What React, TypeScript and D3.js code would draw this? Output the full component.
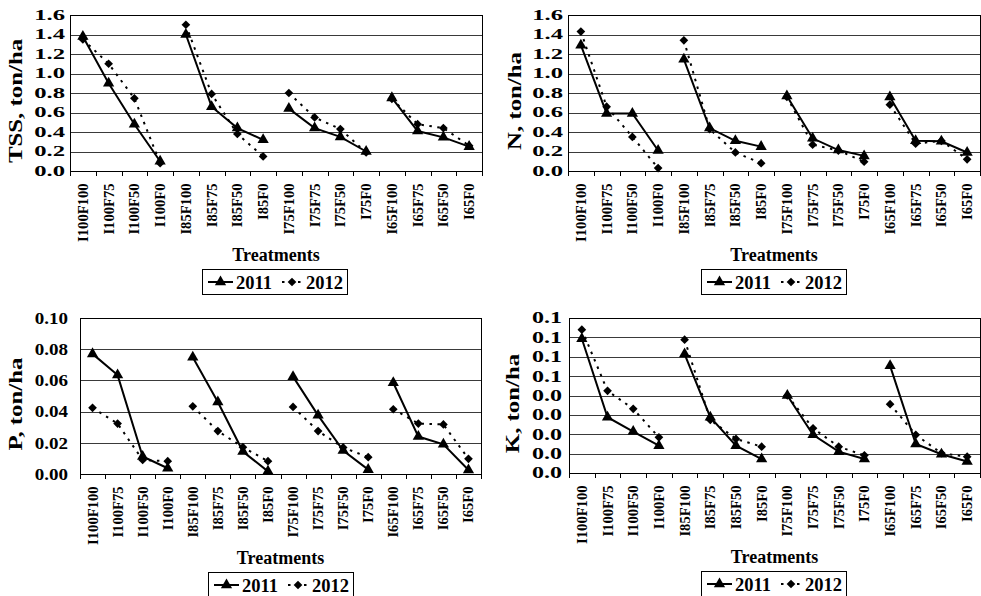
import React, { useEffect, useRef } from "react";
import * as d3 from "d3";

// treatment names: irrigation level x fertiliser level
const irrigation = ["I100", "I85", "I75", "I65"];
const fertiliser = ["F100", "F75", "F50", "F0"];
const treatments = irrigation.flatMap(i => fertiliser.map(f => i + f));

// loads per treatment, ton/ha
const tss2011 = [1.38, 0.9, 0.48, 0.1, 1.4, 0.66, 0.44, 0.32, 0.64, 0.44, 0.35, 0.2, 0.75, 0.41, 0.345, 0.25];
const tss2012 = [1.35, 1.1, 0.745, 0.08, 1.5, 0.79, 0.38, 0.15, 0.8, 0.55, 0.43, 0.19, 0.74, 0.48, 0.44, 0.26];
const n2011 = [1.29, 0.59, 0.59, 0.21, 1.145, 0.44, 0.31, 0.25, 0.77, 0.335, 0.215, 0.155, 0.76, 0.31, 0.305, 0.19];
const n2012 = [1.43, 0.66, 0.35, 0.03, 1.34, 0.43, 0.19, 0.08, 0.76, 0.27, 0.21, 0.095, 0.68, 0.28, 0.31, 0.12];
const p2011 = [0.077, 0.0634, 0.0112, 0.0037, 0.0748, 0.0462, 0.0144, 0.0017, 0.0624, 0.0376, 0.015, 0.0028, 0.0585, 0.024, 0.019, 0.0026];
const p2012 = [0.0424, 0.0323, 0.009, 0.0082, 0.0434, 0.0275, 0.0172, 0.0082, 0.043, 0.0275, 0.017, 0.0108, 0.0415, 0.0323, 0.0318, 0.0097];
const k2011 = [0.0693, 0.0288, 0.0214, 0.0141, 0.0614, 0.0288, 0.0141, 0.0072, 0.04, 0.0197, 0.011, 0.0072, 0.0553, 0.015, 0.0097, 0.0059];
const k2012 = [0.074, 0.0424, 0.0331, 0.0184, 0.0688, 0.0274, 0.0176, 0.0136, 0.04, 0.0231, 0.0136, 0.0091, 0.0355, 0.0197, 0.0102, 0.0084];

// tick labels as printed on each axis
const tssTicks = ["0.0", "0.2", "0.4", "0.6", "0.8", "1.0", "1.2", "1.4", "1.6"];
const pTicks = ["0.00", "0.02", "0.04", "0.06", "0.08", "0.10"];
const kTicks = ["0.0", "0.0", "0.0", "0.0", "0.0", "0.1", "0.1", "0.1", "0.1"];

const years = ["2011", "2012"];

const FONT = "'Liberation Serif', 'Times New Roman', serif";

const panels = [
  { title: "TSS, ton/ha", a: tss2011, b: tss2012, max: 1.6, ticks: tssTicks,
    x0: 70, x1: 482, y0: 15, y1: 171, labelGap: 5, titleX: 16, tickSize: 14.5, tickScale: 1.7, legendX: 202 },
  { title: "N, ton/ha", a: n2011, b: n2012, max: 1.6, ticks: tssTicks,
    x0: 568, x1: 980, y0: 15, y1: 171, labelGap: 5, titleX: 515, tickSize: 14.5, tickScale: 1.7, legendX: 701 },
  { title: "P, ton/ha", a: p2011, b: p2012, max: 0.1, ticks: pTicks,
    x0: 80, x1: 481, y0: 318, y1: 474, labelGap: 12, titleX: 16, tickSize: 17, tickScale: 1.12, legendX: 208 },
  { title: "K, ton/ha", a: k2011, b: k2012, max: 0.08, ticks: kTicks,
    x0: 569, x1: 980, y0: 318, y1: 473, labelGap: 7, titleX: 513, tickSize: 16, tickScale: 1.5, legendX: 701 },
];

const App = () => {
  const svgRef = useRef();

  useEffect(() => {
    const svg = d3.select(svgRef.current);
    svg.selectAll("*").remove();

    svg.append("rect").attr("width", 981).attr("height", 596).attr("fill", "#fff");

    const tri = d3.symbol(d3.symbolTriangle, 55);
    // excel style diamond = square turned 45 degrees
    const dia = d3.symbol(d3.symbolSquare, 38);
    const markTf = s => (s === 0 ? "" : " rotate(45)");

    panels.forEach(p => {
      const g = svg.append("g").attr("font-family", FONT).attr("font-weight", "bold");

      const x = d3.scaleBand().domain(treatments).range([p.x0, p.x1]);
      const y = d3.scaleLinear().domain([0, p.max]).range([p.y1, p.y0]);
      const step = p.max / (p.ticks.length - 1);
      const tickVals = p.ticks.map((_, i) => i * step);

      // gridlines
      g.selectAll(".grid")
        .data(tickVals.slice(1))
        .join("line")
        .attr("x1", p.x0).attr("x2", p.x1)
        .attr("y1", d => Math.round(y(d)) + 0.5).attr("y2", d => Math.round(y(d)) + 0.5)
        .attr("stroke", "#3a3a3a").attr("stroke-width", 1);

      // plot frame
      g.append("rect")
        .attr("x", p.x0 + 0.5).attr("y", p.y0 + 0.5)
        .attr("width", p.x1 - p.x0).attr("height", p.y1 - p.y0)
        .attr("fill", "none").attr("stroke", "#000").attr("stroke-width", 1);

      // y tick labels (stretched wide, as in the source figure)
      g.selectAll(".ytick")
        .data(p.ticks)
        .join("text")
        .attr("transform", (d, i) => `translate(${p.x0 - p.labelGap},${y(tickVals[i]) + p.tickSize * 0.34}) scale(${p.tickScale},1)`)
        .attr("text-anchor", "end")
        .attr("font-size", p.tickSize)
        .text(d => d);

      // x axis ticks between categories
      g.selectAll(".xtick")
        .data(d3.range(treatments.length + 1))
        .join("line")
        .attr("x1", i => Math.round(p.x0 + i * x.step()) + 0.5)
        .attr("x2", i => Math.round(p.x0 + i * x.step()) + 0.5)
        .attr("y1", p.y1).attr("y2", p.y1 + 5)
        .attr("stroke", "#000");

      g.selectAll(".xlab")
        .data(treatments)
        .join("text")
        .attr("transform", d => `translate(${x(d) + x.bandwidth() / 2 + 5},${p.y1 + 12.5}) rotate(-90)`)
        .attr("text-anchor", "end")
        .attr("font-size", 14.6)
        .text(d => d);

      // axis titles
      g.append("text")
        .attr("transform", `translate(${p.titleX + 6},${(p.y0 + p.y1) / 2 + 8}) rotate(-90) scale(1.38,1)`)
        .attr("text-anchor", "middle")
        .attr("font-size", 18)
        .text(p.title);

      g.append("text")
        .attr("x", (p.x0 + p.x1) / 2).attr("y", p.y1 + 90)
        .attr("text-anchor", "middle")
        .attr("font-size", 18)
        .text("Treatments");

      // series
      const line = d3.line().x(d => x(d.t) + x.bandwidth() / 2).y(d => y(d.v));
      [p.a, p.b].forEach((vals, s) => {
        const pts = treatments.map((t, i) => ({ t, v: vals[i], grp: Math.floor(i / fertiliser.length) }));
        irrigation.forEach((_, gi) => {
          g.append("path")
            .datum(pts.filter(d => d.grp === gi))
            .attr("d", line)
            .attr("fill", "none")
            .attr("stroke", "#000")
            .attr("stroke-width", 2)
            .attr("stroke-dasharray", s === 0 ? null : "2.5,5.5");
        });
        g.selectAll(".mk" + s)
          .data(pts)
          .join("path")
          .attr("transform", d => `translate(${x(d.t) + x.bandwidth() / 2},${y(d.v)})${markTf(s)}`)
          .attr("d", s === 0 ? tri : dia)
          .attr("fill", "#000");
      });

      // legend
      const ly = p.y1 + 98;
      const lg = g.append("g").attr("transform", `translate(${p.legendX},${ly})`);
      lg.append("rect").attr("x", 0.5).attr("y", 0.5).attr("width", 145).attr("height", 25)
        .attr("fill", "#fff").attr("stroke", "#000");
      years.forEach((yr, s) => {
        const ox = s === 0 ? 6 : 80;
        const len = s === 0 ? 25 : 22;
        lg.append("line").attr("x1", ox).attr("x2", ox + len).attr("y1", 13).attr("y2", 13)
          .attr("stroke", "#000").attr("stroke-width", 2)
          .attr("stroke-dasharray", s === 0 ? null : "2.5,5.5");
        lg.append("path").attr("transform", `translate(${ox + (s === 0 ? 12.5 : 10)},13)${markTf(s)}`)
          .attr("d", s === 0 ? tri : dia).attr("fill", "#000");
        lg.append("text").attr("x", s === 0 ? 34 : 104).attr("y", 19.5)
          .attr("font-size", 18.5).text(yr);
      });
    });
  }, []);

  return (
    <svg ref={svgRef} width={981} height={596}
      style={{ position: "absolute", left: 0, top: 0, display: "block" }} />
  );
};

export default App;
